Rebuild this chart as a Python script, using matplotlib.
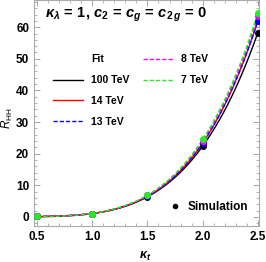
import numpy as np
import matplotlib
matplotlib.use("Agg")
import matplotlib.pyplot as plt
from matplotlib.lines import Line2D
from matplotlib.ticker import MultipleLocator

plt.rcParams['font.family'] = ['Liberation Sans', 'DejaVu Sans']
plt.rcParams['mathtext.fontset'] = 'custom'
plt.rcParams['mathtext.rm'] = 'Liberation Sans'
plt.rcParams['mathtext.it'] = 'Liberation Sans:italic'
plt.rcParams['mathtext.bf'] = 'Liberation Sans:bold'
plt.rcParams['mathtext.bfit'] = 'Liberation Sans:bold:italic'

# simulation points, R_HH vs kappa_t
kt = [0.5, 1.0, 1.5, 2.0, 2.5]
energies = ['100 TeV', '14 TeV', '13 TeV', '8 TeV', '7 TeV']
r_100 = [0.12, 1.0, 6.3, 22.4, 58.3]
r_14 = [0.12, 1.0, 6.6, 23.3, 62.0]
r_13 = [0.12, 1.0, 6.6, 23.3, 62.0]
r_8 = [0.12, 1.0, 6.8, 24.0, 63.4]
r_7 = [0.12, 1.0, 6.9, 24.5, 64.4]
colors = ['black', 'red', 'blue', 'magenta', '#22ee22']
styles = ['-', '-', '--', '--', '--']

fig = plt.figure(figsize=(2.66, 2.62), dpi=100)
ax = fig.add_axes([34/266, 36/262, 225/266, 226/262])

xs = np.linspace(0.5, 2.5, 200)
handles = []
for r, c, ls, lab in zip([r_100, r_14, r_13, r_8, r_7], colors, styles, energies):
    # fit R = a kt^4 + b kt^3 + c kt^2
    A = np.column_stack([np.power(kt, 4), np.power(kt, 3), np.power(kt, 2)])
    coef = np.linalg.lstsq(A, r, rcond=None)[0]
    ys = coef[0]*xs**4 + coef[1]*xs**3 + coef[2]*xs**2
    h, = ax.plot(xs, ys, color=c, ls=ls, lw=1, dashes=(3, 1.5) if ls == '--' else (None, None))
    handles.append(h)
for r, c in zip([r_100, r_14, r_13, r_8, r_7], colors):
    ax.plot(kt, r, 'o', color=c, ms=4, zorder=5)

ax.set_xlim(0.473, 2.51)
ax.set_ylim(-2.9, 68.6)
ax.xaxis.set_major_locator(MultipleLocator(0.5))
ax.xaxis.set_minor_locator(MultipleLocator(0.1))
ax.yaxis.set_major_locator(MultipleLocator(10))
ax.yaxis.set_minor_locator(MultipleLocator(2))
ax.tick_params(which='both', direction='in', top=True, right=True, color='#999999')
ax.tick_params(which='major', length=4, width=0.6, labelsize=8.5)
ax.tick_params(which='minor', length=2, width=0.5)
for lbl in ax.get_xticklabels() + ax.get_yticklabels():
    lbl.set_fontweight('bold')
for s in ax.spines.values():
    s.set_color('#aaaaaa')
    s.set_linewidth(0.8)

ax.set_xlabel(r'$\mathbfit{\kappa}_{\mathbfit{t}}$', fontsize=9)
ax.xaxis.set_label_coords((145-34)/225, -(250-226)/226)
ax.set_ylabel(r'$R_{\mathrm{HH}}$', fontsize=8.5)
ax.yaxis.set_label_coords(-(34-15)/225, (226-118)/226)

ax.text(0.05, 0.935,
        r'$\mathbfit{\kappa}_{\mathbfit{\lambda}}\mathbf{\,=\,1,\,}\mathbfit{c}_{\mathbf{2}}'
        r'\mathbf{\,=\,}\mathbfit{c}_{\mathbfit{g}}\mathbf{\,=\,}\mathbfit{c}_{\mathbf{2}\,\mathbfit{g}}\mathbf{\,=\,0}$',
        transform=ax.transAxes, fontsize=10.5, va='center', ha='left')

blank = Line2D([], [], color='none')
leg_handles = [blank, handles[0], handles[1], handles[2], handles[3], handles[4], blank, blank]
leg_labels = ['Fit', energies[0], energies[1], energies[2], energies[3], energies[4], '', '']
leg = ax.legend(leg_handles, leg_labels, ncol=2, loc='upper left', bbox_to_anchor=(0.084, 0.76),
                frameon=False, borderpad=0, borderaxespad=0, handlelength=2.9, handletextpad=0.75,
                columnspacing=1.3, labelspacing=1.05, prop={'weight': 'bold', 'size': 7.5})
ax.add_artist(leg)

sim = Line2D([], [], color='black', marker='o', ls='none', ms=3)
ax.legend([sim], ['Simulation'], loc='center left', bbox_to_anchor=(0.6, 0.084), frameon=False,
          borderpad=0, borderaxespad=0, handlelength=1, handletextpad=0.6,
          prop={'weight': 'bold', 'size': 8.5})

fig.savefig('out.png', dpi=100)
